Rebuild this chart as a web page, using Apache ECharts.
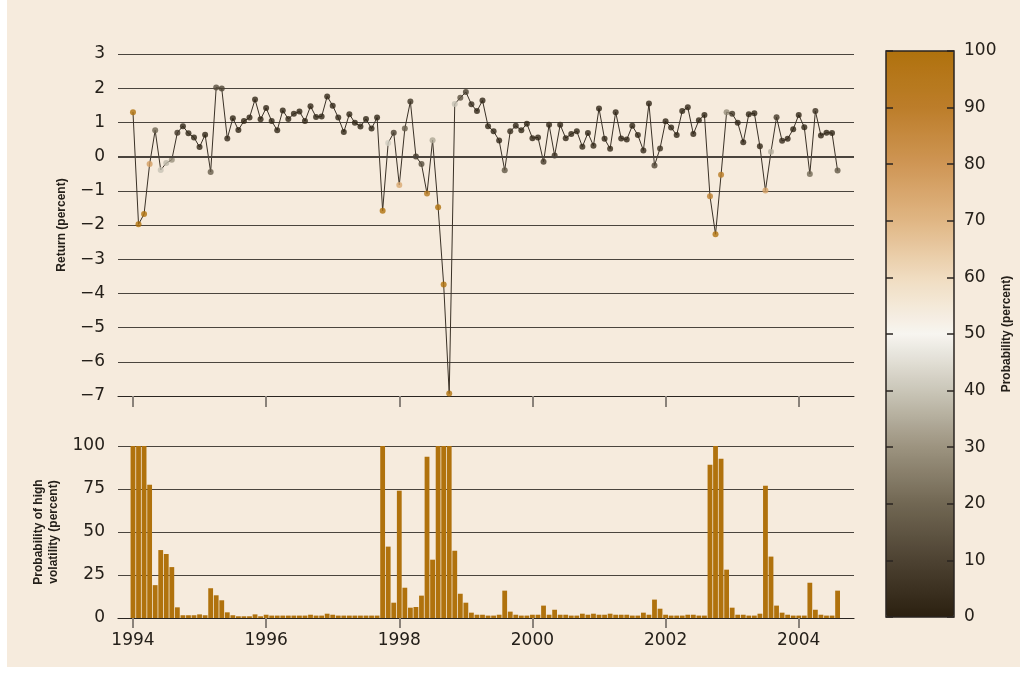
<!DOCTYPE html>
<html>
<head>
<meta charset="utf-8">
<script src="https://cdn.jsdelivr.net/npm/echarts@6/dist/echarts.min.js"></script>
<style>
html,body{margin:0;padding:0;background:#ffffff;}
#chart{width:1026px;height:673px;}
</style>
</head>
<body>
<div id="chart"></div>
<script>
// Monthly observations, January 1994 onward
const startYear = 1994;
const yearTicks = [1994, 1996, 1998, 2000, 2002, 2004];

// Monthly return (percent)
const returns = [
  1.30, -1.98, -1.68, -0.22, 0.77, -0.39, -0.19, -0.09, 0.70, 0.89, 0.68, 0.56, 0.28, 0.64, -0.45, 2.02,
  1.99, 0.53, 1.12, 0.78, 1.04, 1.14, 1.67, 1.09, 1.42, 1.04, 0.77, 1.35, 1.10, 1.25, 1.32, 1.04,
  1.47, 1.16, 1.17, 1.76, 1.49, 1.14, 0.72, 1.24, 0.99, 0.88, 1.10, 0.82, 1.14, -1.58, 0.40, 0.70,
  -0.83, 0.82, 1.61, 0.00, -0.22, -1.08, 0.48, -1.48, -3.74, -6.93, 1.54, 1.72, 1.89, 1.53, 1.33, 1.64,
  0.89, 0.74, 0.47, -0.40, 0.74, 0.90, 0.77, 0.96, 0.54, 0.56, -0.15, 0.93, 0.03, 0.93, 0.54, 0.66,
  0.74, 0.29, 0.69, 0.32, 1.41, 0.52, 0.23, 1.30, 0.53, 0.50, 0.90, 0.63, 0.18, 1.55, -0.26, 0.24,
  1.03, 0.85, 0.63, 1.33, 1.44, 0.66, 1.06, 1.22, -1.16, -2.27, -0.53, 1.30, 1.25, 0.99, 0.42, 1.24,
  1.27, 0.30, -0.99, 0.14, 1.15, 0.46, 0.52, 0.80, 1.22, 0.86, -0.51, 1.33, 0.62, 0.70, 0.69, -0.41
];

// Probability of high volatility (percent)
const probs = [
  100, 100, 100, 77.4, 19.1, 39.5, 37.2, 29.6, 6.2, 1.6, 1.6, 1.6, 2.1, 1.6, 17.3, 13.2,
  10.3, 3.3, 1.6, 1.0, 1.0, 1.0, 2.1, 1.0, 1.9, 1.4, 1.4, 1.4, 1.4, 1.4, 1.4, 1.4,
  1.9, 1.4, 1.4, 2.5, 1.9, 1.4, 1.4, 1.4, 1.4, 1.4, 1.4, 1.4, 1.4, 100, 41.5, 8.9,
  74, 17.6, 6.0, 6.4, 13.0, 93.8, 33.9, 100, 100, 100, 39.1, 14.1, 8.9, 3.1, 1.9, 1.9,
  1.4, 1.4, 1.9, 15.9, 3.7, 1.9, 1.4, 1.4, 1.9, 1.9, 7.2, 1.9, 4.8, 1.9, 1.9, 1.4,
  1.4, 2.5, 1.9, 2.5, 1.9, 1.9, 2.5, 1.9, 1.9, 1.9, 1.4, 1.4, 3.1, 1.9, 10.7, 5.4,
  1.9, 1.4, 1.4, 1.4, 1.9, 1.9, 1.4, 1.4, 89.1, 100, 92.6, 28.1, 6.0, 1.9, 1.9, 1.4,
  1.4, 2.5, 76.9, 35.7, 7.2, 3.1, 1.9, 1.4, 1.4, 1.4, 20.5, 4.8, 1.9, 1.4, 1.4, 15.9
];

// Colour scale of the probability bar (0 -> 100)
const scaleColors = ['#2b2010', '#4d4232', '#716753', '#9c937f', '#cac6b8', '#f7f5f0',
                     '#f0dcc0', '#e0b684', '#cf9655', '#bc7d2a', '#b0720d'];

const times = returns.map((_, i) => startYear + i / 12);
const lineData = returns.map((r, i) => [times[i], r]);
const pointData = returns.map((r, i) => [times[i], r, probs[i]]);
const barData = probs.map((p, i) => [times[i], p]);

const FONT = 'Liberation Sans';
const LFONT = 'DejaVu Sans';
const LSIZE = 17;
const TXT = '#25201a';
const GRIDC = '#4a443d';
const xMin = 1993.775, xMax = 2004.83;

const chart = echarts.init(document.getElementById('chart'), null, {renderer: 'canvas'});
const minus = v => (v < 0 ? '\u2212' + Math.abs(v) : String(v));

chart.setOption({
  backgroundColor: '#ffffff',
  animation: false,
  textStyle: {fontFamily: FONT},
  graphic: [{
    type: 'rect', z: -10, silent: true,
    shape: {x: 7, y: 0, width: 1013, height: 667},
    style: {fill: '#f6ebdd'}
  }],
  grid: [
    {left: 118, top: 54, width: 736, height: 342},
    {left: 118, top: 446, width: 736, height: 172},
    {left: 886, top: 51, width: 68, height: 566, show: true, borderColor: '#2a2520', borderWidth: 1.5, z: 10, backgroundColor: 'transparent'}
  ],
  xAxis: [
    {type: 'value', gridIndex: 0, min: xMin, max: xMax,
     axisLine: {show: true, onZero: false, lineStyle: {color: '#2a2520', width: 1}},
     axisTick: {show: true, customValues: yearTicks, length: 11, inside: false, lineStyle: {color: '#8a827a', width: 2}},
     axisLabel: {show: false},
     splitLine: {show: false}},
    {type: 'value', gridIndex: 1, min: xMin, max: xMax,
     axisLine: {show: true, onZero: false, lineStyle: {color: '#2a2520', width: 1.2}},
     axisTick: {show: true, customValues: yearTicks, length: 10, lineStyle: {color: '#8a827a', width: 2}},
     axisLabel: {show: true, customValues: yearTicks, formatter: v => String(Math.round(v)),
                 color: TXT, fontSize: LSIZE, fontFamily: LFONT, margin: 14},
     splitLine: {show: false}},
    {type: 'value', gridIndex: 2, min: 0, max: 1, show: false}
  ],
  yAxis: [
    {type: 'value', gridIndex: 0, min: -7, max: 3, interval: 1,
     name: 'Return (percent)', nameLocation: 'middle', nameGap: 50,
     nameTextStyle: {fontSize: 12, fontWeight: 'bold', color: TXT, fontFamily: FONT},
     axisLine: {show: false}, axisTick: {show: false},
     axisLabel: {formatter: minus, color: TXT, fontSize: LSIZE, fontFamily: LFONT, margin: 13},
     splitLine: {show: true, lineStyle: {color: GRIDC, width: 1}}},
    {type: 'value', gridIndex: 1, min: 0, max: 100, interval: 25,
     name: 'Probability of high\nvolatility (percent)', nameLocation: 'middle', nameGap: 47,
     nameTextStyle: {fontSize: 12, fontWeight: 'bold', color: TXT, fontFamily: FONT, lineHeight: 15},
     axisLine: {show: false}, axisTick: {show: false},
     axisLabel: {color: TXT, fontSize: LSIZE, fontFamily: LFONT, margin: 13},
     splitLine: {show: true, lineStyle: {color: GRIDC, width: 1}}},
    {type: 'value', gridIndex: 2, min: 0, max: 100, interval: 10, position: 'left', z: 12,
     axisLine: {show: false},
     axisTick: {show: true, inside: true, length: 7, lineStyle: {color: '#2a2520', width: 1.5}},
     axisLabel: {show: false}, splitLine: {show: false}},
    {type: 'value', gridIndex: 2, min: 0, max: 100, interval: 10, position: 'right', z: 12,
     name: 'Probability (percent)', nameLocation: 'middle', nameGap: 45, nameRotate: 90,
     nameTextStyle: {fontSize: 12, fontWeight: 'bold', color: TXT, fontFamily: FONT},
     axisLine: {show: false},
     axisTick: {show: true, inside: true, length: 7, lineStyle: {color: '#2a2520', width: 1.5}},
     axisLabel: {show: true, inside: false, color: TXT, fontSize: LSIZE, fontFamily: LFONT, margin: 10},
     splitLine: {show: false}}
  ],
  visualMap: [{
    type: 'continuous', min: 0, max: 100, dimension: 2, seriesIndex: 1,
    calculable: false, hoverLink: false, text: null, showLabel: false,
    left: 886, top: 51, padding: 0, itemWidth: 68, itemHeight: 566,
    inRange: {color: scaleColors}, z: 4
  }],
  series: [
    {type: 'line', xAxisIndex: 0, yAxisIndex: 0, data: lineData, showSymbol: false,
     lineStyle: {color: '#3a3126', width: 1}, z: 2,
     markLine: {silent: true, symbol: 'none', label: {show: false},
                lineStyle: {color: '#4a443d', width: 2, type: 'solid'}, data: [{yAxis: 0}]}},
    {type: 'scatter', xAxisIndex: 0, yAxisIndex: 0, data: pointData, symbolSize: 6, z: 3},
    {type: 'bar', xAxisIndex: 1, yAxisIndex: 1, data: barData, barWidth: 4.8,
     itemStyle: {color: '#b0720d'}}
  ]
});
</script>
</body>
</html>
